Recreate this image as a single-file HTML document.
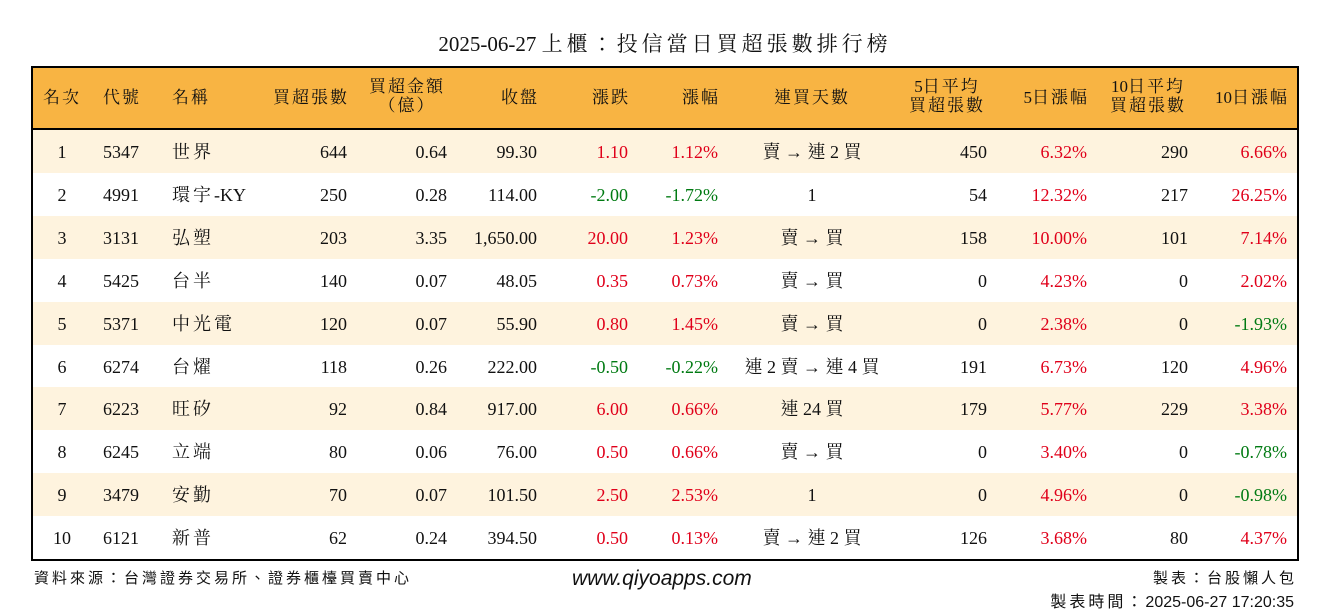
<!DOCTYPE html>
<html><head><meta charset="utf-8">
<style>
body{margin:0;width:1330px;height:612px;background:#fff;position:relative;overflow:hidden;
font-family:"Liberation Serif","Noto Serif CJK TC","Noto Serif CJK SC",serif;color:#111;}
.a{position:absolute;white-space:nowrap;}
#title{left:0;width:1330px;top:28px;text-align:center;font-size:21px;}
#title span{letter-spacing:4px;}
#tbl{left:31px;top:66px;width:1264px;height:491px;border:2px solid #000;}
#hdr{left:33px;top:68px;width:1264px;height:60px;background:#F8B443;border-bottom:3px solid #000;}
.h{font-size:17px;line-height:19px;text-align:center;}
.h span{letter-spacing:2px;}
.c{font-size:18px;line-height:20px;}
.cjk{letter-spacing:3px;}
.red{color:#e0001a}.grn{color:#007a12}
.foot{font-family:"Liberation Sans","Noto Sans CJK TC",sans-serif;font-size:15px;}
.foot span{letter-spacing:3px;}
</style></head><body>
<div class="a" id="title">2025-06-27 <span>上櫃：投信當日買超張數排行榜</span></div>
<div class="a" id="tbl"></div>
<div class="a" id="hdr"></div>
<div id="rows"></div>
<div class="a foot" style="left:34px;top:567px"><span>資料來源：台灣證券交易所、證券櫃檯買賣中心</span></div>
<div class="a" style="left:572px;top:567px;font-family:'Liberation Sans',sans-serif;font-style:italic;font-size:21px">www.qiyoapps.com</div>
<div class="a foot" style="right:33px;top:567px"><span>製表：台股懶人包</span></div>
<div class="a foot" style="right:36px;top:588px;font-size:16px"><span>製表時間：</span>2025-06-27 17:20:35</div>
<script>
const ranks=["1","2","3","4","5","6","7","8","9","10"];
const codes=["5347","4991","3131","5425","5371","6274","6223","6245","3479","6121"];
const names=["世界","環宇-KY","弘塑","台半","中光電","台燿","旺矽","立端","安勤","新普"];
const buyLots=["644","250","203","140","120","118","92","80","70","62"];
const buyAmt=["0.64","0.28","3.35","0.07","0.07","0.26","0.84","0.06","0.07","0.24"];
const closePx=["99.30","114.00","1,650.00","48.05","55.90","222.00","917.00","76.00","101.50","394.50"];
const change=["1.10","-2.00","20.00","0.35","0.80","-0.50","6.00","0.50","2.50","0.50"];
const pct=["1.12%","-1.72%","1.23%","0.73%","1.45%","-0.22%","0.66%","0.66%","2.53%","0.13%"];
const streak=["賣 → 連 2 買","1","賣 → 買","賣 → 買","賣 → 買","連 2 賣 → 連 4 買","連 24 買","賣 → 買","1","賣 → 連 2 買"];
const avg5=["450","54","158","0","0","191","179","0","0","126"];
const pct5=["6.32%","12.32%","10.00%","4.23%","2.38%","6.73%","5.77%","3.40%","4.96%","3.68%"];
const avg10=["290","217","101","0","0","120","229","0","0","80"];
const pct10=["6.66%","26.25%","7.14%","2.02%","-1.93%","4.96%","3.38%","-0.78%","-0.98%","4.37%"];
const cols=[["c",62],["l",103],["l",172],["r",347],["r",447],["r",537],["r",628],["r",718],["c",812],["r",987],["r",1087],["r",1188],["r",1287]];
const heads=[["名次"],["代號"],["名稱"],["買超張數"],["買超金額","（億）"],["收盤"],["漲跌"],["漲幅"],["連買天數"],["5日平均","買超張數"],["5日漲幅"],["10日平均","買超張數"],["10日漲幅"]];
const hnames=["rank","code","name","buy-lots","buy-amount","close","change","change-pct","streak","avg5-lots","pct5","avg10-lots","pct10"];
const root=document.getElementById('rows');
function esc(s){return s.replace(/[&<>]/g,c=>({'&':'&amp;','<':'&lt;','>':'&gt;'}[c]));}
function wrapCJK(s){return esc(s).replace(/([\u3000-\u9fff\uff00-\uffef]+)/g,'<span>$1</span>');}
function place(el,al,x,y){el.style.top=y+'px';
 if(al==='l')el.style.left=x+'px';
 else if(al==='r')el.style.right=(1330-x)+'px';
 else{el.style.left=(x-100)+'px';el.style.width='200px';el.style.textAlign='center';}}
heads.forEach((h,i)=>{const d=document.createElement('div');d.className='a h';
 
 
 d.innerHTML=h.map(wrapCJK).join('<br>');
 const al=cols[i][0];let x=cols[i][1];
 if(h.length>1){place(d,'c',al==='r'?x-40:x,77);}
 else if(al==='r'){place(d,al,x+2,88);}
 else place(d,al,x,88);
 root.appendChild(d);});
const rowH=42.9,top0=130;
function cls(v){return v.startsWith('-')?'grn':'red';}
for(let r=0;r<ranks.length;r++){
 const y=top0+r*rowH;
 const bg=document.createElement('div');bg.className='a';
 
 
 bg.style.cssText=`left:33px;top:${y}px;width:1264px;height:${rowH+0.5}px;background:${r%2?'#fff':'#FEF3DE'}`;
 root.appendChild(bg);
 const vals=[ranks[r],codes[r],names[r],buyLots[r],buyAmt[r],closePx[r],change[r],pct[r],streak[r],avg5[r],pct5[r],avg10[r],pct10[r]];
 vals.forEach((v,i)=>{const d=document.createElement('div');d.className='a c';
  
  
  if([6,7,10,12].includes(i))d.classList.add(cls(v));
  if(i===2){d.innerHTML=esc(v).replace(/([\u3000-\u9fff]+)/g,'<span class="cjk">$1</span>');}
  else d.textContent=v;
  place(d,cols[i][0],cols[i][1],y+12);root.appendChild(d);});
}
</script>
</body></html>
